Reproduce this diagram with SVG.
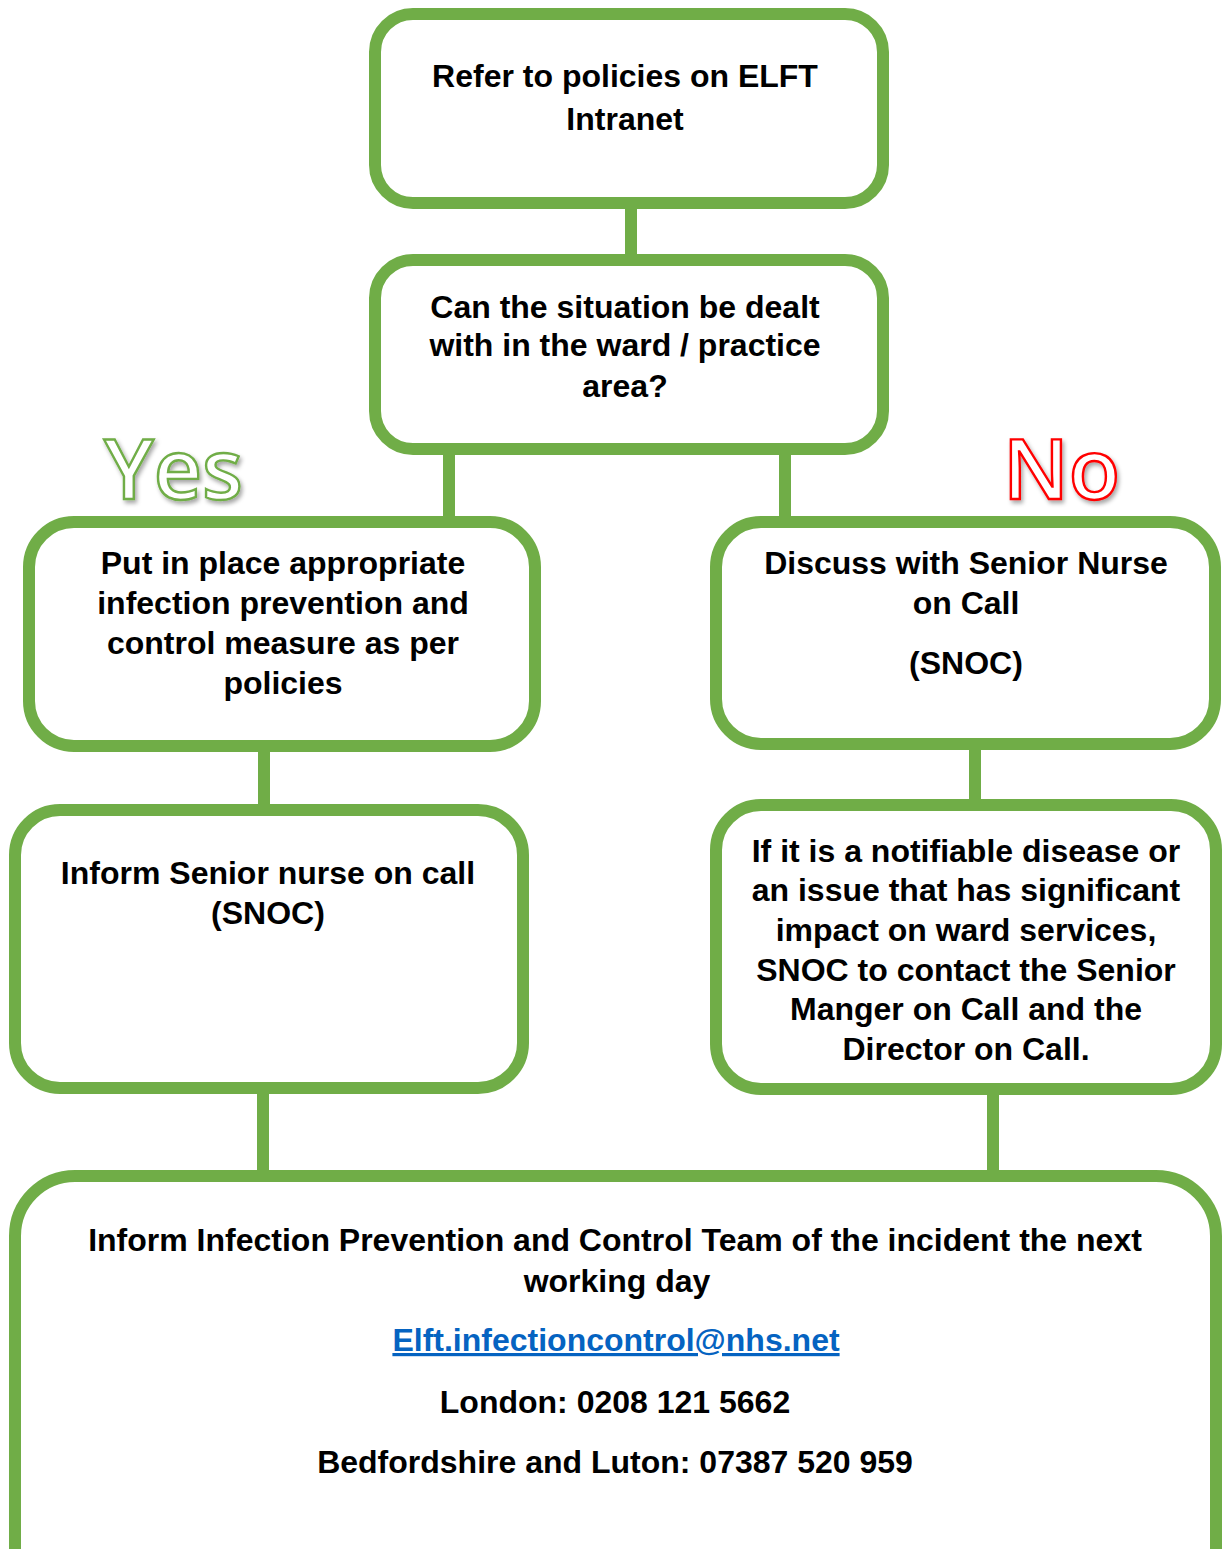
<svg xmlns="http://www.w3.org/2000/svg" width="1222" height="1549" viewBox="0 0 1222 1549">
<defs>
<style>
.box{fill:#FFFFFF;stroke:#70AD47;stroke-width:12}
.con{stroke:#70AD47;stroke-width:12;fill:none}
.t{font-family:"Liberation Sans",Arial,sans-serif;font-weight:bold;font-size:32px;fill:#000000;text-anchor:middle}
.link{fill:#0563C1;text-decoration:underline}
.big{font-family:"Open Sans",Lato,sans-serif;font-weight:600;font-size:84px;fill:#FFFFFF;stroke-width:2.4;filter:url(#sh)}
</style>
<filter id="sh" x="-20%" y="-20%" width="140%" height="150%">
<feDropShadow dx="2" dy="3" stdDeviation="2" flood-color="#000000" flood-opacity="0.35"/>
</filter>
</defs>
<rect width="1222" height="1549" fill="#FFFFFF"/>
<g id="connectors">
<line class="con" x1="631" y1="203" x2="631" y2="260"/>
<line class="con" x1="449" y1="449" x2="449" y2="522"/>
<line class="con" x1="785" y1="449" x2="785" y2="522"/>
<line class="con" x1="264" y1="746" x2="264" y2="810"/>
<line class="con" x1="975" y1="744" x2="975" y2="805"/>
<line class="con" x1="263" y1="1088" x2="263" y2="1176"/>
<line class="con" x1="993" y1="1089" x2="993" y2="1176"/>
</g>
<g id="n1">
<rect class="box" x="375" y="14" width="508" height="189" rx="38"/>
<text class="t" x="625" y="87">Refer to policies on ELFT</text>
<text class="t" x="625" y="130">Intranet</text>
</g>
<g id="n2">
<rect class="box" x="375" y="260" width="508" height="189" rx="38"/>
<text class="t" x="625" y="318">Can the situation be dealt</text>
<text class="t" x="625" y="356">with in the ward / practice</text>
<text class="t" x="625" y="397">area?</text>
</g>
<g id="yes">
<text class="big" x="104" y="499" stroke="#70AD47">Yes</text>
</g>
<g id="no">
<text class="big" x="1003" y="499" stroke="#FF0000">No</text>
</g>
<g id="n3">
<rect class="box" x="29" y="522" width="506" height="224" rx="45"/>
<text class="t" x="283" y="574">Put in place appropriate</text>
<text class="t" x="283" y="614">infection prevention and</text>
<text class="t" x="283" y="654">control measure as per</text>
<text class="t" x="283" y="694">policies</text>
</g>
<g id="n4">
<rect class="box" x="716" y="522" width="499" height="222" rx="45"/>
<text class="t" x="966" y="574">Discuss with Senior Nurse</text>
<text class="t" x="966" y="614">on Call</text>
<text class="t" x="966" y="674">(SNOC)</text>
</g>
<g id="n5">
<rect class="box" x="15" y="810" width="508" height="278" rx="45"/>
<text class="t" x="268" y="884">Inform Senior nurse on call</text>
<text class="t" x="268" y="924">(SNOC)</text>
</g>
<g id="n6">
<rect class="box" x="716" y="805" width="500" height="284" rx="45"/>
<text class="t" x="966" y="862">If it is a notifiable disease or</text>
<text class="t" x="966" y="901">an issue that has significant</text>
<text class="t" x="966" y="941">impact on ward services,</text>
<text class="t" x="966" y="981">SNOC to contact the Senior</text>
<text class="t" x="966" y="1020">Manger on Call and the</text>
<text class="t" x="966" y="1060">Director on Call.</text>
</g>
<g id="n7">
<rect class="box" x="15" y="1176" width="1201" height="1367" rx="60"/>
<text class="t" x="615" y="1251">Inform Infection Prevention and Control Team of the incident the next</text>
<text class="t" x="617" y="1292">working day</text>
<text class="t link" x="616" y="1351">Elft.infectioncontrol@nhs.net</text>
<text class="t" x="615" y="1413">London: 0208 121 5662</text>
<text class="t" x="615" y="1473">Bedfordshire and Luton: 07387 520 959</text>
</g>
</svg>
